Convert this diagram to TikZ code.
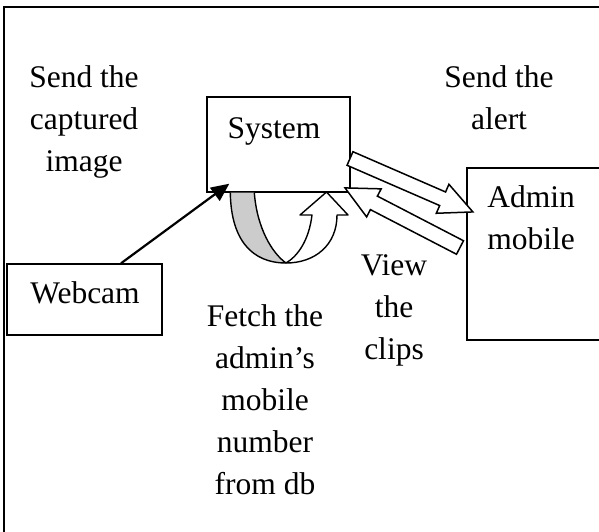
\documentclass[tikz,border=0pt]{standalone}
\usepackage{fontspec}
\setmainfont{Liberation Serif}
\usetikzlibrary{arrows.meta}
\begin{document}
\begin{tikzpicture}[x=1pt,y=-1pt,
  lbl/.style={font=\fontsize{31.5}{42}\selectfont, align=center, inner sep=0pt, anchor=base},
  box/.style={draw, line width=1.4pt, fill=white, inner sep=0pt},
  blockarrow/.style={draw, line width=1.5pt, fill=white, line join=miter},
  uturn/.style={draw, line width=1.4pt, line join=round}
]
\useasboundingbox (0,0) rectangle (599,531);
% outer frame (continues beyond the picture on the right and at the bottom)
\draw[line width=1.8pt] (4,560) -- (4,7) -- (640,7);

% boxes
\node[box, minimum width=143pt, minimum height=95pt] (sys) at (278.5,144.5) {};
\node[box, minimum width=155pt, minimum height=71pt] (web) at (84.5,299.5) {};
\node[box, minimum width=173pt, minimum height=172pt] (adm) at (553.5,254) {};

% texts (anchor base = baseline of the last line)
\node[lbl] (tsys) at (274,138) {System};
\node[lbl] (tweb) at (85,303) {Webcam};
\node[lbl] (tadm) at (531,249) {Admin\\mobile};
\node[lbl] (tsend) at (84,171) {Send the\\captured\\image};
\node[lbl] (talert) at (499,129) {Send the\\alert};
\node[lbl] (tfetch) at (265,494) {Fetch the\\admin’s\\mobile\\number\\from db};
\node[lbl] (tview) at (394,359) {View\\the\\clips};

% webcam -> system
\draw[line width=2.2pt, -{Triangle[length=18pt,width=16pt]}]
  ([xshift=36.5pt]web.north) -- ([xshift=23pt,yshift=9pt]sys.south west);

% U-turn arrow below the system box
\fill[gray!40] ([xshift=24pt]sys.south west) .. controls (231,240) and (252,263) .. (286,263)
  .. controls (272,253) and (257,228) .. ([xshift=48pt]sys.south west) -- cycle;
\draw[uturn] ([xshift=24pt]sys.south west) .. controls (231,240) and (252,263) .. (286,263)
  .. controls (272,253) and (257,228) .. ([xshift=48pt]sys.south west);
\draw[uturn, fill=white] (286,263) .. controls (315,263) and (337,245) .. (337,215)
  -- (348,215) -- (326.5,192) -- (300,215) -- (312,215)
  .. controls (309,240) and (298,256) .. (286,263) -- cycle;

% block arrows between system and admin mobile
% "Send the alert": system -> admin mobile
\begin{scope}[shift={(350,158.5)}, rotate=-23.5]
  \draw[blockarrow] (0,-7.4) -- (101,-7.4) -- (101,-15.8) -- (134,0)
    -- (101,15.8) -- (101,7.4) -- (0,7.4) -- cycle;
\end{scope}
% "View the clips": admin mobile -> system
\begin{scope}[shift={(460,247.5)}, rotate=152.6]
  \draw[blockarrow] (0,-7.6) -- (97,-7.6) -- (97,-15.8) -- (129.5,0)
    -- (97,15.8) -- (97,7.6) -- (0,7.6) -- cycle;
\end{scope}
\end{tikzpicture}
\end{document}
